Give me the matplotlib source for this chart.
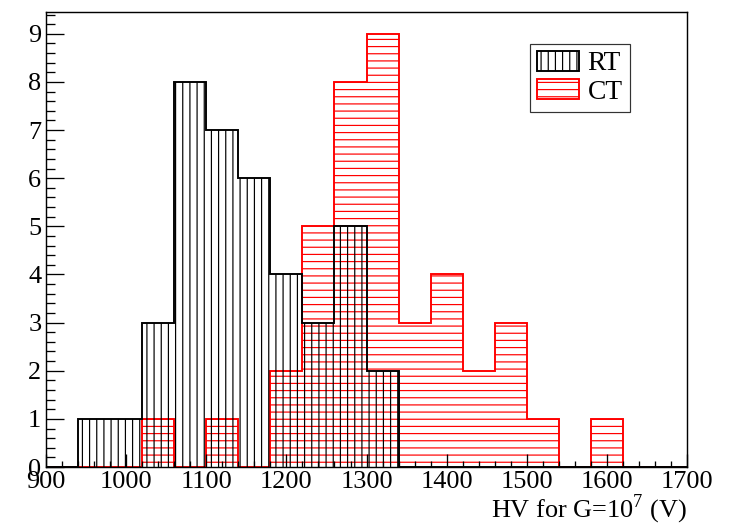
import numpy as np
import matplotlib.pyplot as plt
from matplotlib.ticker import MultipleLocator

# bin edges: 20 bins of 40 V from 900 to 1700
edges = np.arange(900, 1701, 40)
rt_counts = [0, 1, 1, 3, 8, 7, 6, 4, 3, 5, 2, 0, 0, 0, 0, 0, 0, 0, 0, 0]
ct_counts = [0, 0, 0, 1, 0, 1, 0, 2, 5, 8, 9, 3, 4, 2, 3, 1, 0, 1, 0, 0]

plt.rcParams['font.family'] = ['Liberation Serif', 'DejaVu Serif']
plt.rcParams['mathtext.fontset'] = 'custom'
plt.rcParams['mathtext.rm'] = 'Liberation Serif'
plt.rcParams['hatch.linewidth'] = 1.0

dpi = 86
fig = plt.figure(figsize=(733 / dpi, 528 / dpi), dpi=dpi)
ax = fig.add_axes([0.0628, 0.1155, 0.8745, 0.8615])

ax.stairs(ct_counts, edges, fill=True, facecolor='none', edgecolor='red',
          hatch='--', linewidth=1.6, label='CT')
ax.stairs(rt_counts, edges, fill=True, facecolor='none', edgecolor='black',
          hatch='||', linewidth=1.6, label='RT')

ax.set_xlim(900, 1700)
ax.set_ylim(0, 9.45)
ax.xaxis.set_major_locator(MultipleLocator(100))
ax.xaxis.set_minor_locator(MultipleLocator(20))
ax.yaxis.set_major_locator(MultipleLocator(1))
ax.yaxis.set_minor_locator(MultipleLocator(0.2))

ax.tick_params(axis='both', which='both', direction='in', top=False, right=False,
               labelsize=22, width=1.1)
ax.tick_params(axis='y', which='major', length=15, pad=4)
ax.tick_params(axis='y', which='minor', length=7.5)
ax.tick_params(axis='x', which='major', length=11, pad=3)
ax.tick_params(axis='x', which='minor', length=5)
for s in ax.spines.values():
    s.set_linewidth(1.2)

ax.set_xlabel('HV for G=10$^{7}$ (V)', fontsize=22, loc='right', labelpad=0)

h, l = ax.get_legend_handles_labels()
leg = ax.legend(h[::-1], l[::-1], loc='upper left', bbox_to_anchor=(0.755, 0.93),
                fontsize=23, fancybox=False, frameon=True, edgecolor='black',
                handlelength=1.55, handleheight=0.75, borderpad=0.25,
                labelspacing=0.1, handletextpad=0.3, borderaxespad=0.0)
leg.get_frame().set_linewidth(1.0)

fig.savefig('out.png', dpi=dpi)
